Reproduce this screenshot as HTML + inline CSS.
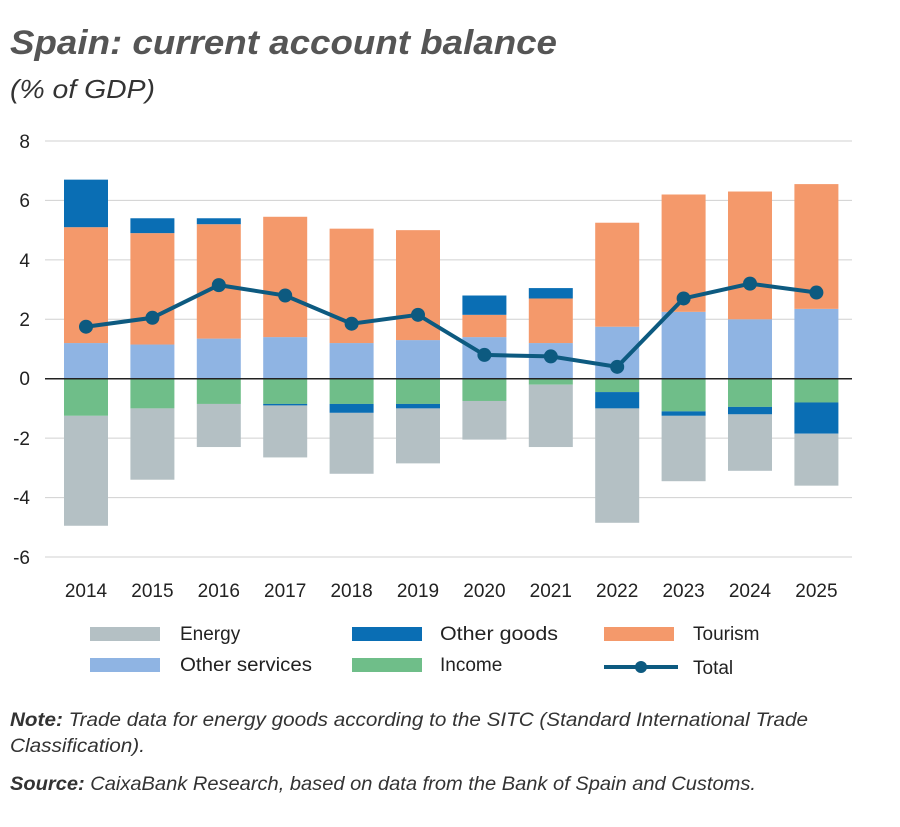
<!DOCTYPE html>
<html><head><meta charset="utf-8"><style>
body{margin:0;background:#fff;}
svg text{font-family:"Liberation Sans",sans-serif;}
</style></head><body>
<svg width="900" height="822" viewBox="0 0 900 822" xmlns="http://www.w3.org/2000/svg">
<text x="10" y="54" font-size="34" font-weight="bold" font-style="italic" fill="#555" textLength="547" lengthAdjust="spacingAndGlyphs">Spain: current account balance</text>
<text x="10" y="98" font-size="26" font-style="italic" fill="#333" textLength="145" lengthAdjust="spacingAndGlyphs">(% of GDP)</text>
<g stroke="#d0d0d0" stroke-width="1">
<line x1="45" x2="852" y1="141" y2="141"/><line x1="45" x2="852" y1="200.4" y2="200.4"/>
<line x1="45" x2="852" y1="259.9" y2="259.9"/><line x1="45" x2="852" y1="319.3" y2="319.3"/>
<line x1="45" x2="852" y1="438.1" y2="438.1"/><line x1="45" x2="852" y1="497.6" y2="497.6"/>
<line x1="45" x2="852" y1="557" y2="557"/>
</g>
<g font-size="19" fill="#222" text-anchor="end">
<text x="30" y="148">8</text><text x="30" y="207">6</text><text x="30" y="267">4</text><text x="30" y="326">2</text>
<text x="30" y="385">0</text><text x="30" y="445">-2</text><text x="30" y="504">-4</text><text x="30" y="564">-6</text>
</g>
<g id="bars"></g>
<line x1="45" x2="852" y1="378.7" y2="378.7" stroke="#222" stroke-width="1.5"/>
<polyline id="tot" fill="none" stroke="#0d5a80" stroke-width="4"/>
<g id="dots"></g>
<g font-size="19" fill="#222" text-anchor="middle" id="xl"></g>
<g font-size="19" fill="#222">
<rect x="90" y="627" width="70" height="14" fill="#b4c0c4"/><text x="180" y="640">Energy</text>
<rect x="352" y="627" width="70" height="14" fill="#0a6eb4"/><text x="440" y="640" textLength="118" lengthAdjust="spacingAndGlyphs">Other goods</text>
<rect x="604" y="627" width="70" height="14" fill="#f4996b"/><text x="693" y="640">Tourism</text>
<rect x="90" y="658" width="70" height="14" fill="#8fb4e3"/><text x="180" y="671" textLength="132" lengthAdjust="spacingAndGlyphs">Other services</text>
<rect x="352" y="658" width="70" height="14" fill="#6fbe89"/><text x="440" y="671">Income</text>
<line x1="604" x2="678" y1="667" y2="667" stroke="#0d5a80" stroke-width="4"/><circle cx="641" cy="667" r="6" fill="#0d5a80"/><text x="693" y="674">Total</text>
</g>
<g font-size="19.5" font-style="italic" fill="#333">
<text x="10" y="726" textLength="798" lengthAdjust="spacingAndGlyphs"><tspan font-weight="bold">Note:</tspan> Trade data for energy goods according to the SITC (Standard International Trade</text>
<text x="10" y="752" textLength="135" lengthAdjust="spacingAndGlyphs">Classification).</text>
<text x="10" y="790" textLength="746" lengthAdjust="spacingAndGlyphs"><tspan font-weight="bold">Source:</tspan> CaixaBank Research, based on data from the Bank of Spain and Customs.</text>
</g>
<script>
var d=[
[1.2,5.1,6.7,-1.25,-1.25,-4.95,1.75],
[1.15,4.9,5.4,-1.0,-1.0,-3.4,2.05],
[1.35,5.2,5.4,-0.85,-0.85,-2.3,3.15],
[1.4,5.45,5.45,-0.85,-0.9,-2.65,2.8],
[1.2,5.05,5.05,-0.85,-1.15,-3.2,1.85],
[1.3,5.0,5.0,-0.85,-1.0,-2.85,2.15],
[1.4,2.15,2.8,-0.75,-0.75,-2.05,0.8],
[1.2,2.7,3.05,-0.2,-0.2,-2.3,0.75],
[1.75,5.25,5.25,-0.45,-1.0,-4.85,0.4],
[2.25,6.2,6.2,-1.1,-1.25,-3.45,2.7],
[2.0,6.3,6.3,-0.95,-1.2,-3.1,3.2],
[2.35,6.55,6.55,-0.8,-1.85,-3.6,2.9]];
function Y(v){return 378.7-v*29.71;}
var ns="http://www.w3.org/2000/svg",g=document.getElementById('bars'),pts=[],dots=document.getElementById('dots'),xl=document.getElementById('xl');
function r(x,a,b,c){if(Math.abs(a-b)<0.001)return;var e=document.createElementNS(ns,'rect');e.setAttribute('x',x-22);e.setAttribute('width',44);e.setAttribute('y',Math.min(Y(a),Y(b)));e.setAttribute('height',Math.abs(Y(a)-Y(b)));e.setAttribute('fill',c);g.appendChild(e);}
d.forEach(function(v,i){var x=86+i*66.4;
r(x,0,v[0],'#8fb4e3');r(x,v[0],v[1],'#f4996b');r(x,v[1],v[2],'#0a6eb4');
r(x,0,v[3],'#6fbe89');r(x,v[3],v[4],'#0a6eb4');r(x,v[4],v[5],'#b4c0c4');
pts.push(x+','+Y(v[6]));
var c=document.createElementNS(ns,'circle');c.setAttribute('cx',x);c.setAttribute('cy',Y(v[6]));c.setAttribute('r',7);c.setAttribute('fill','#0d5a80');dots.appendChild(c);
var t=document.createElementNS(ns,'text');t.setAttribute('x',x);t.setAttribute('y',597);t.textContent=2014+i;xl.appendChild(t);});
document.getElementById('tot').setAttribute('points',pts.join(' '));
</script>
</svg>
</body></html>
